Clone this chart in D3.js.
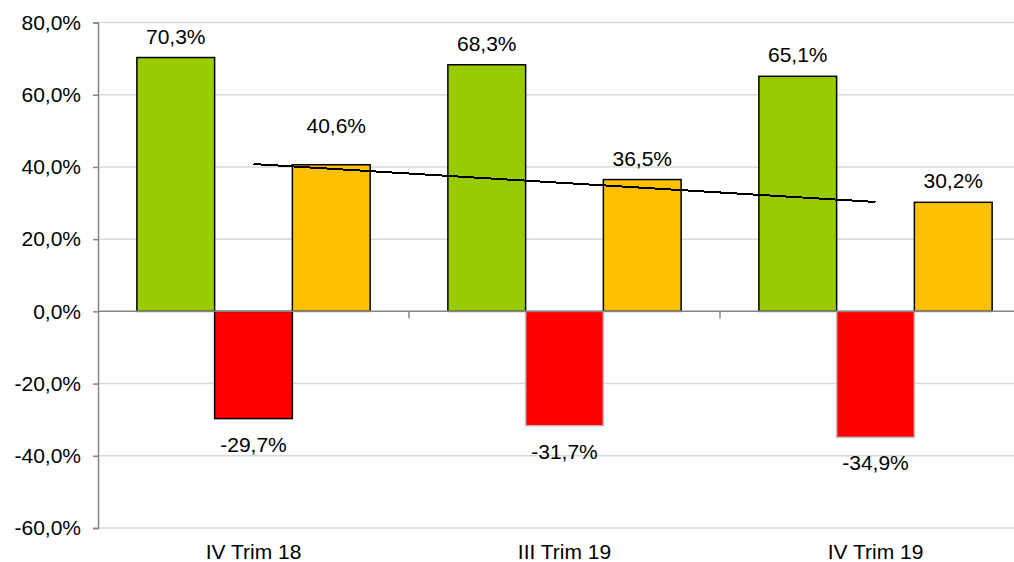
<!DOCTYPE html>
<html><head><meta charset="utf-8">
<script src="https://cdn.jsdelivr.net/npm/d3@7"></script>
<style>body{margin:0;background:#fff}svg{display:block}text{font-family:"Liberation Sans",Arial,sans-serif;fill:#000}</style>
</head><body><svg id="c" width="1014" height="562"></svg>
<script>
const categories = ["IV Trim 18", "III Trim 19", "IV Trim 19"];
const series = ["verde", "rosso", "giallo"];
const verde = [70.3, 68.3, 65.1];
const rosso = [-29.7, -31.7, -34.9];
const giallo = [40.6, 36.5, 30.2];
const trend = [40.8, 30.3]; // trendline of giallo, first and last category
const yTicks = [-60, -40, -20, 0, 20, 40, 60, 80];

const colors = {verde: "#99cc00", rosso: "#ff0000", giallo: "#ffc000"};
const values = {verde, rosso, giallo};
const FS = 21;

const svg = d3.select("#c");
const x = d3.scaleBand().domain(categories).range([98, 1031]).padding(0);
const xs = d3.scaleBand().domain(series).range([0, x.bandwidth()]).paddingInner(0).paddingOuter(0.5);
const y = d3.scaleLinear().domain([-60, 80]).range([528, 22.5]);

const loc = d3.formatLocale({decimal: ",", thousands: ".", grouping: [3], currency: ["", "€"], minus: "-"});
const fmt = v => loc.format(".1f")(v) + "%";

// gridlines
svg.append("g").selectAll("line").data(yTicks.filter(t => t !== 0)).join("line")
  .attr("x1", 98).attr("x2", 1014).attr("y1", d => y(d)).attr("y2", d => y(d))
  .attr("stroke", "#d9d9d9").attr("stroke-width", 1.5);

// bars
const rows = [];
categories.forEach((c, i) => series.forEach(s => rows.push({c, s, v: values[s][i], i})));
svg.append("g").selectAll("rect").data(rows).join("rect")
  .attr("x", d => x(d.c) + xs(d.s))
  .attr("width", xs.bandwidth())
  .attr("y", d => y(Math.max(0, d.v)))
  .attr("height", d => Math.abs(y(d.v) - y(0)))
  .attr("fill", d => colors[d.s])
  .attr("stroke", d => (d.s === "rosso" && d.i > 0) ? "#bfbfbf" : "#000")
  .attr("stroke-width", 1.5);

// trend line
svg.append("path")
  .datum(trend.map((v, k) => [k === 0 ? categories[0] : categories[categories.length - 1], v]))
  .attr("d", d3.line().x(d => x(d[0]) + x.bandwidth() / 2).y(d => y(d[1])))
  .attr("fill", "none").attr("stroke", "#000").attr("stroke-width", 2)
  .attr("shape-rendering", "crispEdges");

// y axis
const yAxis = svg.append("g").attr("transform", "translate(98,0)")
  .call(d3.axisLeft(y).tickValues(yTicks).tickSize(5).tickPadding(12).tickFormat(fmt));
yAxis.select(".domain").attr("stroke", "#868686").attr("stroke-width", 1.5);
yAxis.selectAll(".tick line").attr("stroke", "#868686").attr("stroke-width", 1.5);
yAxis.selectAll(".tick text").attr("font-size", FS).attr("font-family", "Liberation Sans, Arial, sans-serif").attr("fill", "#000");

// zero axis with category separators
const xAxis = svg.append("g").attr("transform", `translate(0,${y(0)})`);
xAxis.append("line").attr("x1", 98).attr("x2", 1014).attr("stroke", "#868686").attr("stroke-width", 1.5);
xAxis.selectAll("line.sep").data(categories.slice(1)).join("line").attr("class", "sep")
  .attr("x1", d => x(d)).attr("x2", d => x(d)).attr("y1", 0).attr("y2", 7)
  .attr("stroke", "#868686").attr("stroke-width", 1.5);

// category labels
svg.append("g").selectAll("text").data(categories).join("text")
  .attr("x", d => x(d) + x.bandwidth() / 2).attr("y", 559)
  .attr("text-anchor", "middle").attr("font-size", FS).text(d => d);

// value labels
svg.append("g").selectAll("text").data(rows).join("text")
  .attr("x", d => x(d.c) + xs(d.s) + xs.bandwidth() / 2 + (d.s === "giallo" && d.i === 0 ? 5 : 0))
  .attr("y", d => d.v >= 0 ? y(d.v) - 14 - (d.s === "giallo" && d.i === 0 ? 18 : 0) : y(d.v) + 33)
  .attr("text-anchor", "middle").attr("font-size", FS).text(d => fmt(d.v));
</script></body></html>
